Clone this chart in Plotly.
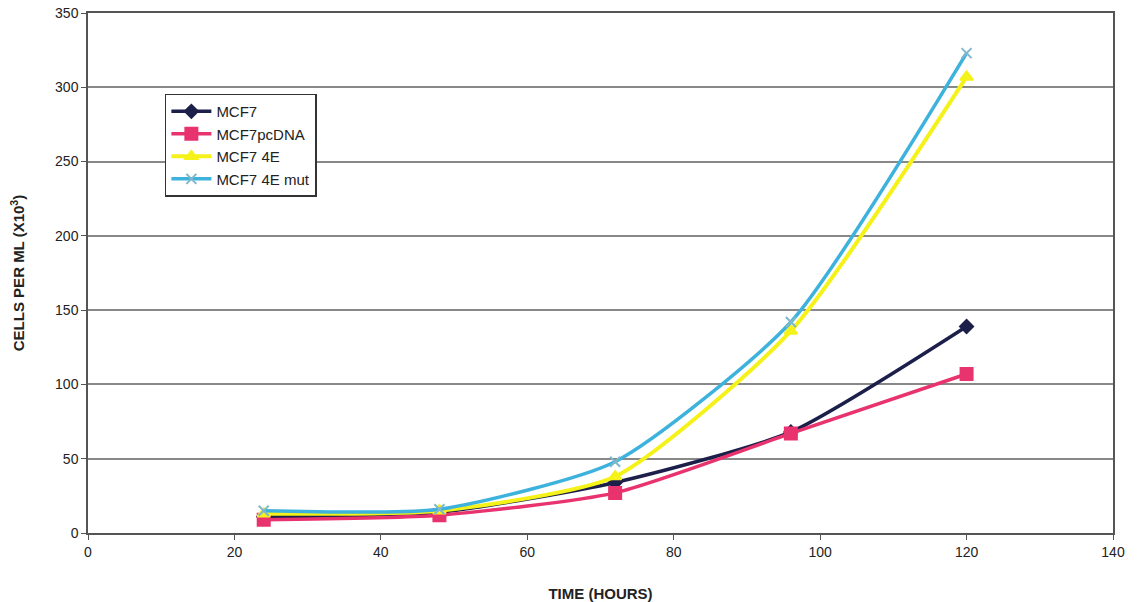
import plotly.graph_objects as go

hours = [24, 48, 72, 96, 120]
mcf7 = [11, 14, 34, 68, 139]
mcf7_pcdna = [9, 12, 27, 67, 107]
mcf7_4e = [13, 15, 38, 136, 307]
mcf7_4e_mut = [15, 16, 48, 142, 323]

x_ticks = [0, 20, 40, 60, 80, 100, 120, 140]
y_ticks = [0, 50, 100, 150, 200, 250, 300, 350]

series = [
    ("MCF7", mcf7, "#1c1f4a", "diamond", 10, 3.5),
    ("MCF7pcDNA", mcf7_pcdna, "#e8336e", "square", 12, 3.5),
    ("MCF7 4E", mcf7_4e, "#f5f21a", "triangle-up", 11, 4),
    ("MCF7 4E mut", mcf7_4e_mut, "#3cb2dc", "x-thin", 10, 3.5),
]

fig = go.Figure()
for name, vals, color, symbol, msize, lw in series:
    fig.add_trace(go.Scatter(
        x=hours, y=vals, name=name, mode="lines+markers",
        line=dict(color=color, width=lw, shape="spline", smoothing=0.6),
        marker=dict(symbol=symbol, size=msize, color=color,
                    line=dict(color=color if symbol != "x-thin" else "#7fb8cc", width=2)),
    ))

fig.update_layout(
    width=1143, height=602,
    margin=dict(l=88, r=30, t=13, b=69),
    paper_bgcolor="white", plot_bgcolor="white",
    font=dict(family="Liberation Sans, Arial, sans-serif", size=14, color="#222222"),
    showlegend=True,
    legend=dict(
        x=0.075, y=0.845, xanchor="left", yanchor="top",
        bgcolor="white", bordercolor="#333333", borderwidth=1.5,
        font=dict(size=15, color="#222222"),
        tracegroupgap=1, itemwidth=40,
    ),
)
fig.update_xaxes(
    range=[0, 140], tickvals=x_ticks, showgrid=False, zeroline=False, automargin=False,
    showline=True, linecolor="#555555", linewidth=1.5, mirror=True,
    ticks="outside", ticklen=5, tickcolor="#555555",
    title=dict(text="<b>TIME (HOURS)</b>", font=dict(size=15), standoff=30),
)
fig.update_yaxes(
    range=[0, 350], tickvals=y_ticks, showgrid=True, gridcolor="#888888", gridwidth=1.5,
    zeroline=False, showline=True, linecolor="#555555", linewidth=1.5, mirror=True,
    automargin=False,
    ticks="outside", ticklen=5, tickcolor="#555555",
    title=dict(text="<b>CELLS PER ML (X10<sup>3</sup>)</b>", font=dict(size=15), standoff=27),
)

fig.write_html("out.html")
